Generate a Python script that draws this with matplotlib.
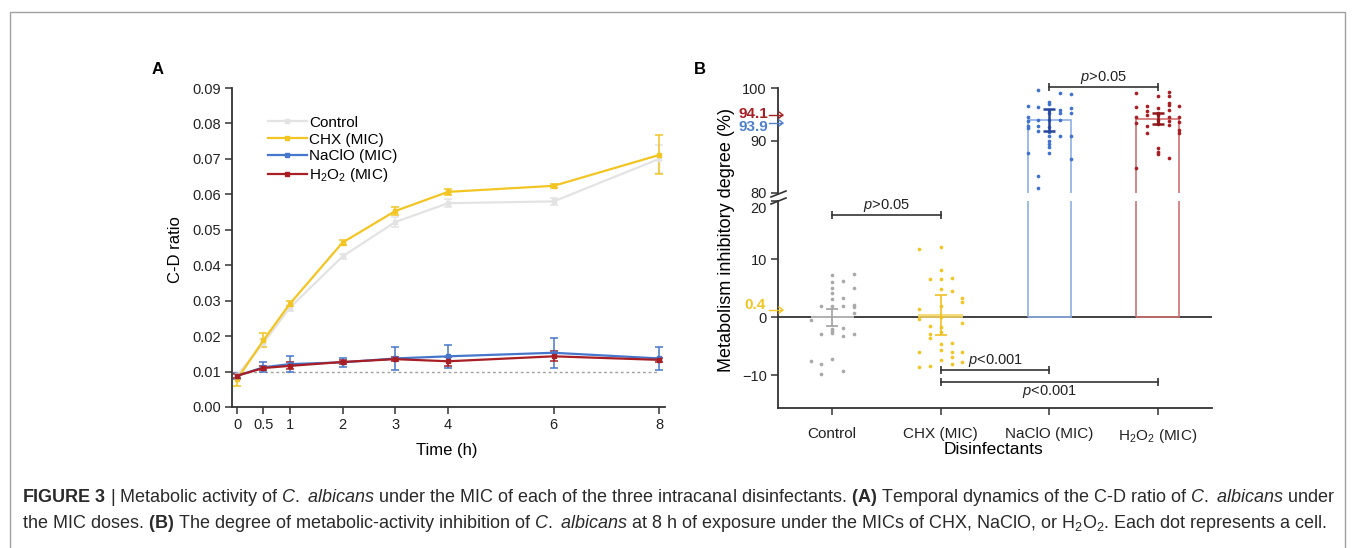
import matplotlib
matplotlib.use("Agg")
import matplotlib.pyplot as plt
from matplotlib.patches import Rectangle
from matplotlib.lines import Line2D
from matplotlib.transforms import ScaledTranslation

plt.rcParams['font.family'] = ['Liberation Sans', 'DejaVu Sans']
plt.rcParams['mathtext.fontset'] = 'custom'
plt.rcParams['mathtext.rm'] = 'Liberation Sans'
plt.rcParams['mathtext.it'] = 'Liberation Sans:italic'
plt.rcParams['mathtext.bf'] = 'Liberation Sans:bold'

# ---- panel A data: C-D ratio over time ----
time_h = [0, 0.5, 1, 2, 3, 4, 6, 8]
ctrl_mean = [0.0090, 0.0180, 0.0280, 0.0425, 0.0522, 0.0575, 0.0580, 0.0700]
ctrl_err = [0.0008, 0.0012, 0.0008, 0.0008, 0.0015, 0.0012, 0.0010, 0.0040]
chx_mean = [0.0078, 0.0188, 0.0291, 0.0464, 0.0553, 0.0607, 0.0624, 0.0711]
chx_err = [0.0018, 0.0020, 0.0007, 0.0008, 0.0012, 0.0009, 0.0005, 0.0055]
naclo_mean = [0.0088, 0.0112, 0.0121, 0.0126, 0.0137, 0.0143, 0.0153, 0.0137]
naclo_err = [0.0008, 0.0014, 0.0022, 0.0012, 0.0033, 0.0033, 0.0043, 0.0033]
h2o2_mean = [0.0088, 0.0110, 0.0116, 0.0127, 0.0135, 0.0129, 0.0143, 0.0133]
h2o2_err = [0.0006, 0.0007, 0.0010, 0.0006, 0.0006, 0.0012, 0.0014, 0.0006]
baseline = 0.01

# ---- panel B data: inhibition degree at 8 h ----
groups = ["Control", "CHX (MIC)", "NaClO (MIC)", "H$_2$O$_2$ (MIC)"]
group_mean = [0.0, 0.4, 93.9, 94.1]
group_err = [1.5, 3.4, 2.1, 1.05]
col_offsets = [-0.2, -0.1, 0.0, 0.1, 0.2]
ctrl_dots = [[-0.4, -7.6],
             [1.9, -2.9, -8.1, -9.7],
             [7.2, 6.1, 5.1, 4.1, 3.1, 1.9, -2.0, -2.4, -2.7, -7.2],
             [6.3, 3.3, 1.9, -1.8, -3.3, -9.3],
             [7.5, 5.1, 2.1, 1.8, 0.7, -2.9]]
chx_dots = [[11.8, 1.5, -0.3, -6.0, -8.6],
            [6.6, -1.5, -2.9, -3.6, -8.4],
            [12.1, 8.1, 6.6, 4.8, 1.9, 0.0, -1.7, -2.5, -4.6, -5.7, -7.3],
            [6.8, 4.5, -4.5, -5.9, -6.8, -8.0],
            [3.3, 2.6, -1.0, -6.0, -7.7]]
naclo_dots = [[96.6, 94.5, 93.8, 92.8, 92.4, 87.6],
              [99.6, 96.3, 93.9, 92.8, 91.8, 83.2, 81.0],
              [97.3, 96.9, 95.8, 95.2, 94.0, 92.6, 91.7, 90.9, 90.0, 89.3, 88.8, 87.6],
              [99.1, 95.8, 95.2, 93.9, 90.9],
              [98.9, 96.1, 95.2, 90.9, 86.5]]
h2o2_dots = [[99.1, 96.3, 94.4, 93.3, 84.8],
             [96.6, 95.7, 94.9, 92.8, 91.5],
             [98.5, 96.1, 95.2, 94.9, 94.0, 93.4, 93.1, 88.6, 87.9, 87.4],
             [99.3, 98.4, 97.1, 96.8, 95.8, 94.4, 93.8, 93.0, 86.7],
             [96.6, 94.4, 93.6, 92.0, 91.5]]

W, H = 1355, 548
fig = plt.figure(figsize=(W / 100, H / 100), dpi=100)


def fx(px):
    return px / W


def fy(py):
    return 1 - py / H


dark = '#333333'
yellow = '#f3c523'
blue = '#4677cc'
red = '#a81e24'
light_grey = '#e3e3e3'
tick_fs = 10.5

# outer frame of the figure box
fig.patches.append(Rectangle((fx(10), -0.05), fx(1345 - 10), fy(12) + 0.05,
                             transform=fig.transFigure, fill=False,
                             edgecolor='#a0a0a0', lw=1))

# ================= panel A =================
axA = fig.add_axes([fx(232), fy(407), fx(433), (407 - 88) / H])
axA.plot([0, 8], [baseline, baseline], ls=(0, (2, 2)), color='#a0a0a0', lw=1)
series = [(ctrl_mean, ctrl_err, light_grey, "Control"),
          (chx_mean, chx_err, yellow, "CHX (MIC)"),
          (naclo_mean, naclo_err, blue, "NaClO (MIC)"),
          (h2o2_mean, h2o2_err, red, "H$_2$O$_2$ (MIC)")]
handles = []
for m, e, c, lab in series:
    axA.errorbar(time_h, m, yerr=e, color=c, lw=1.6, marker='s', ms=3.5,
                 capsize=3, elinewidth=1.1, capthick=1.1)
    handles.append(Line2D([], [], color=c, lw=1.6, marker='s', ms=3.5, label=lab))
axA.set_xlim(-0.095, 8.11)
axA.set_ylim(0, 0.09)
axA.set_xticks(time_h)
axA.set_xticklabels(["0", "0.5", "1", "2", "3", "4", "6", "8"])
axA.set_yticks([i / 100 for i in range(10)])
axA.set_yticklabels([f"{i / 100:.2f}" for i in range(10)])
for s in ['top', 'right']:
    axA.spines[s].set_visible(False)
for s in ['left', 'bottom']:
    axA.spines[s].set_color(dark)
    axA.spines[s].set_linewidth(1.3)
axA.tick_params(direction='out', length=5, width=1.1, color=dark,
                labelsize=tick_fs, labelcolor='#222222', pad=3)
axA.legend(handles=handles, loc='upper left', bbox_to_anchor=(0.068, 0.932),
           frameon=False, fontsize=11, handlelength=2.6, handletextpad=0.1,
           labelspacing=0.18, borderaxespad=0)
fig.text(fx(447), fy(451), "Time (h)", ha='center', va='center', fontsize=12)
fig.text(fx(176), fy(250), "C-D ratio", ha='center', va='center',
         rotation=90, fontsize=12)
fig.text(fx(158), fy(70), "A", ha='center', va='center', fontsize=12,
         fontweight='bold')

# ================= panel B =================
axU = fig.add_axes([fx(778), fy(193), fx(434), (193 - 88) / H])
axL = fig.add_axes([fx(778), fy(408), fx(434), (408 - 201) / H])

dot_colors = ['#a9a9a9', yellow, '#3f72cf', '#a81e24']
bar_colors = ['#c8c8c8', '#f5d560', '#8eb0e6', '#d07272']
err_colors = ['#a0a0a0', '#f0c020', '#26469c', '#8f1519']
all_dots = [ctrl_dots, chx_dots, naclo_dots, h2o2_dots]

for ax in (axU, axL):
    for i, dots in enumerate(all_dots):
        xs, ys = [], []
        for off, col in zip(col_offsets, dots):
            xs += [i + off] * len(col)
            ys += col
        ax.scatter(xs, ys, s=7, color=dot_colors[i], lw=0, zorder=3)
        ax.bar(i, group_mean[i], width=0.4, fill=False,
               edgecolor=bar_colors[i], lw=1.2, zorder=2)
        ax.errorbar(i, group_mean[i], yerr=group_err[i], fmt='none',
                    ecolor=err_colors[i], elinewidth=1.8 if i > 1 else 1.2,
                    capsize=4, capthick=1.8 if i > 1 else 1.2, zorder=4)
    ax.set_xlim(-0.5, 3.5)
    for s in ['top', 'right']:
        ax.spines[s].set_visible(False)
    for s in ['left', 'bottom']:
        ax.spines[s].set_color(dark)
        ax.spines[s].set_linewidth(1.3)
    ax.tick_params(direction='out', length=5, width=1.1, color=dark,
                   labelsize=tick_fs, labelcolor='#222222', pad=3)

axU.set_ylim(80, 100)
axU.set_yticks([80, 90, 100])
axU.spines['bottom'].set_visible(False)
axU.set_xticks([])

axL.set_ylim(-15.6, 20)
axL.set_yticks([-10, 0, 10, 20])
axL.axhline(0, color=dark, lw=1.3, zorder=1)
axL.set_xticks(range(4))
axL.set_xticklabels(groups)
axL.tick_params(axis='x', pad=9, labelsize=11)
for lab in axL.get_yticklabels():
    if lab.get_text() == '20':
        lab.set_transform(lab.get_transform() +
                          ScaledTranslation(0, -5 / 72, fig.dpi_scale_trans))

# break marks on the y spine
for py in (194, 201):
    fig.add_artist(Line2D([fx(771), fx(786)], [fy(py + 3), fy(py - 3)],
                          color=dark, lw=1.2))


def bracket(ax, x0, x1, y, ty, txt):
    ax.plot([x0, x1], [y, y], color=dark, lw=1.2, clip_on=False, zorder=5)
    ax.plot([x0, x1], [y, y], ls='none', marker='|', ms=6, mew=1.2,
            color=dark, clip_on=False, zorder=5)
    ax.text((x0 + x1) / 2, ty, txt, ha='center', va='center', fontsize=10.5,
            color='#222222', clip_on=False)


bracket(axL, 0, 1, 17.6, 19.3, r"$\mathit{p}$>0.05")
bracket(axU, 2, 3, 100.25, 102.0, r"$\mathit{p}$>0.05")
bracket(axL, 1, 2, -9.1, -7.5, r"$\mathit{p}$<0.001")
bracket(axL, 1, 3, -11.2, -12.8, r"$\mathit{p}$<0.001")

# mean value call-outs on the y axis
fig.text(fx(768), fy(114), "94.1", ha='right', va='center', fontsize=11,
         fontweight='bold', color=red)
fig.text(fx(768), fy(127), "93.9", ha='right', va='center', fontsize=11,
         fontweight='bold', color='#4f80d0')
fig.text(fx(766), fy(305), "0.4", ha='right', va='center', fontsize=11,
         fontweight='bold', color=yellow)
for py, c in ((115, red), (123, '#4f80d0'), (310, yellow)):
    fig.add_artist(Line2D([fx(769), fx(782)], [fy(py), fy(py)], color=c, lw=1))
    fig.add_artist(Line2D([fx(779), fx(783), fx(779)], [fy(py - 3), fy(py), fy(py + 3)],
                          color=c, lw=1))

fig.text(fx(727), fy(240), "Metabolism inhibitory degree (%)", ha='center',
         va='center', rotation=90, fontsize=13)
fig.text(fx(994), fy(450), "Disinfectants", ha='center', va='center',
         fontsize=12.5)
fig.text(fx(700), fy(70), "B", ha='center', va='center', fontsize=12,
         fontweight='bold')

# ================= caption =================
cap1 = (r"$\mathbf{FIGURE\ 3}$ | Metabolic activity of $\mathit{C.}$ $\mathit{albicans}$ under the MIC of "
        r"each of the three intracanal disinfectants. $\mathbf{(A)}$ Temporal dynamics of the "
        r"C-D ratio of $\mathit{C.}$ $\mathit{albicans}$ under")
cap2 = (r"the MIC doses. $\mathbf{(B)}$ The degree of metabolic-activity inhibition of "
        r"$\mathit{C.}$ $\mathit{albicans}$ at 8 h of exposure under the MICs of CHX, NaClO, or "
        r"H$_2$O$_2$. Each dot represents a cell.")
fig.text(fx(22), fy(497), cap1, ha='left', va='center', fontsize=13,
         color='#2a2a2a')
fig.text(fx(22), fy(524), cap2, ha='left', va='center', fontsize=13,
         color='#2a2a2a')

fig.savefig("out.png", dpi=100)
